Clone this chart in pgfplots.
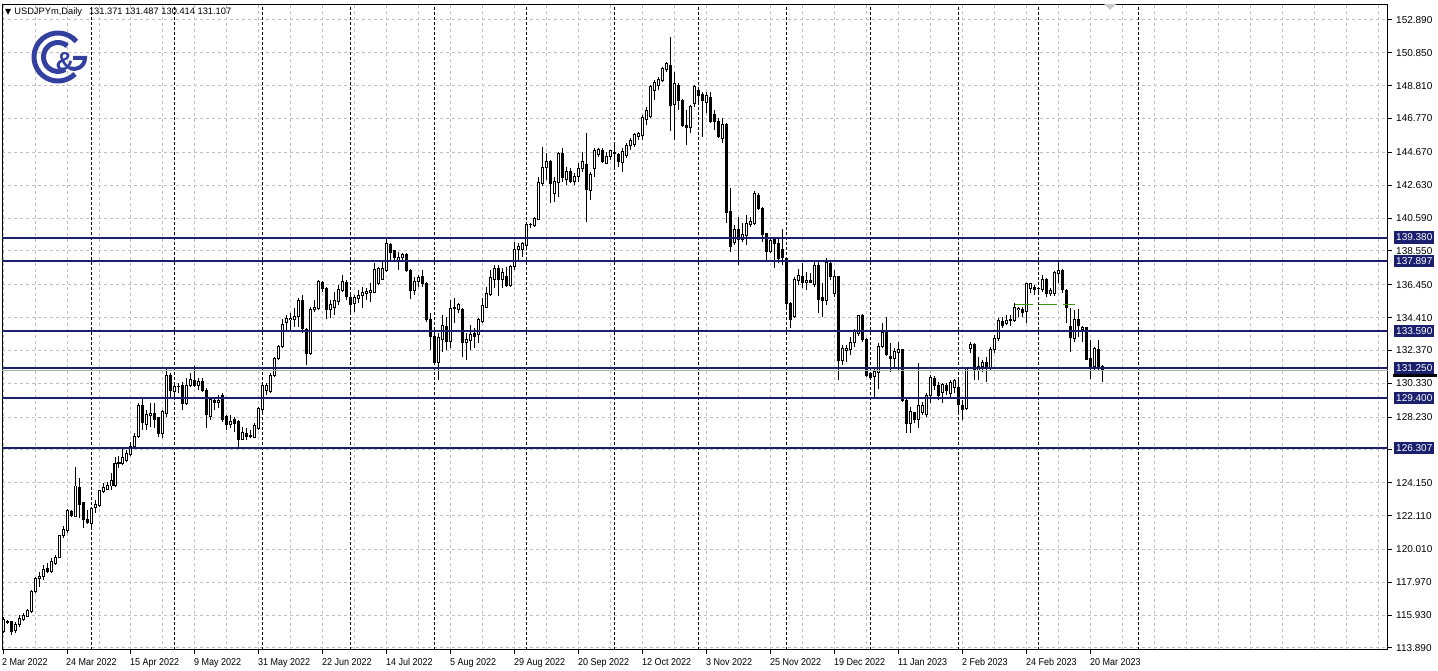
\documentclass[border=0pt]{standalone}
\usepackage{pgfplots}
\pgfplotsset{compat=1.18}
\usepackage{pgfplotstable}
\usepackage{fontspec}
\setmainfont{Liberation Sans}
\newfontfamily\symfont{DejaVu Sans}
\newfontfamily\datefont[FakeStretch=0.9]{Liberation Sans}
\definecolor{navyc}{RGB}{26,32,110}
\definecolor{gridc}{RGB}{192,192,192}
\definecolor{logoc}{RGB}{52,64,160}
\definecolor{greenc}{RGB}{60,150,20}
\definecolor{bidc}{RGB}{175,175,175}

\pgfplotstableread{
i O H L C
0 114.90 115.83 114.80 115.63
1 115.50 115.63 115.40 115.53
2 115.52 115.58 114.70 114.90
3 114.97 115.52 114.80 115.38
4 115.32 115.94 115.21 115.73
5 115.67 116.04 115.59 115.88
6 115.83 116.29 115.79 116.19
7 116.14 117.49 116.04 117.39
8 117.39 118.32 117.29 118.22
9 118.19 118.63 117.70 118.36
10 118.32 119.04 118.11 118.78
11 118.81 119.15 118.53 118.63
12 118.63 119.46 118.53 119.25
13 119.15 119.67 119.04 119.52
14 119.52 120.91 119.46 120.85
15 120.85 121.47 120.72 121.22
16 121.18 122.54 121.01 122.40
17 122.34 122.46 122.05 122.13
18 122.05 125.15 122.00 123.95
19 123.84 124.47 121.94 122.83
20 122.91 122.98 121.32 121.88
21 121.88 122.46 121.59 121.67
22 121.63 122.67 121.32 122.57
23 122.61 123.08 122.29 122.83
24 122.77 123.70 122.67 123.64
25 123.60 124.12 123.50 123.84
26 123.74 124.22 123.70 123.97
27 123.95 124.74 123.70 124.32
28 124.01 125.77 123.91 125.36
29 125.36 125.81 125.05 125.40
30 125.36 126.39 125.25 125.73
31 125.56 126.19 125.46 125.94
32 125.88 126.70 125.81 126.39
33 126.39 127.22 126.29 127.05
34 127.01 129.09 126.91 128.92
35 128.92 129.40 127.43 127.88
36 127.80 128.67 127.43 128.36
37 128.30 129.09 127.63 128.46
38 128.46 129.09 127.53 128.05
39 128.22 128.26 127.01 127.22
40 127.22 128.67 126.91 128.57
41 128.46 131.26 128.26 130.84
42 130.84 130.95 129.50 129.91
43 129.81 130.43 129.50 130.12
44 130.10 130.33 129.71 130.13
45 130.22 130.43 128.67 129.09
46 129.09 130.64 128.98 130.22
47 130.22 130.95 130.12 130.57
48 130.53 131.40 130.12 130.22
49 130.19 130.64 129.91 130.47
50 130.47 130.64 129.81 129.91
51 129.91 130.02 127.53 128.36
52 128.26 129.50 128.05 129.35
53 129.25 129.50 128.67 129.12
54 129.12 129.60 128.78 129.29
55 129.60 129.71 127.94 128.05
56 128.26 128.36 127.43 127.74
57 127.78 128.36 127.53 127.94
58 128.09 128.26 127.32 127.84
59 127.94 128.05 126.39 126.85
60 126.85 127.63 126.81 127.26
61 127.22 127.53 126.81 127.01
62 127.05 127.43 126.91 127.08
63 126.98 127.84 126.91 127.68
64 127.53 128.88 127.43 128.78
65 128.67 130.33 128.57 130.22
66 129.91 130.33 129.60 130.16
67 129.81 130.95 129.71 130.84
68 130.84 131.98 130.74 131.88
69 131.88 132.71 131.77 132.60
70 132.60 134.30 132.50 134.00
71 134.09 134.57 133.53 134.36
72 134.26 134.67 133.64 134.36
73 134.26 134.98 133.84 134.47
74 134.47 135.61 133.84 135.50
75 135.50 135.81 133.43 133.74
76 133.64 133.74 131.46 132.19
77 132.19 135.09 132.09 134.92
78 134.88 135.50 134.78 135.05
79 134.98 136.74 134.88 136.68
80 136.60 136.68 136.02 136.23
81 136.23 136.33 134.30 134.92
82 134.92 135.50 134.36 135.25
83 135.05 136.02 134.57 135.50
84 135.40 136.43 135.19 136.17
85 136.08 137.05 136.02 136.64
86 136.60 136.74 135.50 135.71
87 135.67 135.81 134.67 135.19
88 135.30 135.81 134.78 135.67
89 135.61 136.12 135.30 135.81
90 135.81 136.33 134.98 135.95
91 135.92 136.23 135.50 136.02
92 135.95 136.54 135.40 136.12
93 135.95 137.78 135.92 137.41
94 136.54 137.57 136.43 137.47
95 136.78 137.88 136.74 137.47
96 137.36 139.39 137.26 138.98
97 138.92 139.02 137.88 138.44
98 138.57 138.61 137.88 138.15
99 137.98 138.50 137.36 138.15
100 138.15 138.40 137.98 138.30
101 138.30 138.40 137.26 137.36
102 137.36 137.41 135.55 136.12
103 136.12 136.95 135.81 136.68
104 136.64 137.05 136.33 136.91
105 136.95 137.36 136.33 136.54
106 136.54 136.60 134.16 134.26
107 134.32 134.67 132.40 133.22
108 133.26 133.43 131.57 131.61
109 131.61 133.43 130.53 133.18
110 133.02 134.57 132.29 133.89
111 133.84 134.47 132.40 132.91
112 132.91 135.50 132.50 134.98
113 135.05 135.61 134.05 134.95
114 134.88 135.30 134.67 135.19
115 134.92 134.98 131.98 132.85
116 132.85 133.43 131.77 133.02
117 132.97 133.95 132.40 133.33
118 133.39 133.74 132.54 133.26
119 133.33 134.36 132.81 134.26
120 134.16 135.61 134.05 135.13
121 135.03 136.33 134.98 135.92
122 135.86 137.36 135.75 136.89
123 136.78 137.67 136.23 137.47
124 137.43 137.67 135.75 136.78
125 136.78 137.47 136.23 137.19
126 136.99 137.57 136.33 136.43
127 136.39 137.67 136.33 137.57
128 137.57 139.12 137.36 138.65
129 138.65 139.02 137.98 138.81
130 138.65 139.12 138.19 138.98
131 138.88 140.26 138.81 140.20
132 140.16 140.26 139.95 140.20
133 140.10 140.67 140.06 140.57
134 140.53 143.12 140.47 142.81
135 142.75 144.98 142.58 143.74
136 143.74 144.61 142.95 144.09
137 144.09 144.19 141.50 142.75
138 142.12 143.16 141.61 142.85
139 142.79 144.71 141.92 144.61
140 144.61 144.92 142.85 143.12
141 143.01 143.78 142.64 143.51
142 143.47 143.68 142.75 142.89
143 142.85 143.37 142.64 143.16
144 143.16 143.99 142.85 143.68
145 143.68 144.71 143.47 144.09
146 143.92 145.85 140.37 142.37
147 142.30 143.47 141.71 143.30
148 143.64 144.92 143.16 144.76
149 144.55 144.92 144.40 144.82
150 144.76 144.92 143.99 144.09
151 143.99 144.71 143.92 144.44
152 144.44 144.82 144.19 144.76
153 144.61 145.34 143.57 144.65
154 144.51 144.61 143.78 144.09
155 144.05 144.92 143.47 144.71
156 144.46 145.23 144.34 145.09
157 145.09 145.54 144.82 145.38
158 145.17 145.85 145.02 145.75
159 145.65 145.96 145.44 145.85
160 145.69 146.99 145.44 146.82
161 146.74 147.51 146.37 147.24
162 146.88 148.85 146.78 148.75
163 148.48 149.16 147.92 149.02
164 148.85 149.37 148.54 149.21
165 149.16 149.99 149.02 149.89
166 149.83 150.30 149.68 150.20
167 150.09 151.85 145.99 147.57
168 147.61 149.68 145.44 148.96
169 148.85 148.96 147.30 147.86
170 147.92 147.99 146.27 146.33
171 146.33 147.30 145.13 146.20
172 146.20 147.61 145.85 147.51
173 147.71 148.85 147.51 148.75
174 148.54 148.75 147.82 148.23
175 148.27 148.44 145.65 147.86
176 147.78 148.44 147.09 148.23
177 148.09 148.44 146.51 146.57
178 146.99 147.30 146.06 146.57
179 146.57 146.78 145.54 145.65
180 145.54 146.78 145.23 146.37
181 146.37 146.47 140.26 140.92
182 140.99 142.44 138.50 138.81
183 139.06 140.16 138.92 139.89
184 139.85 140.68 137.67 139.27
185 139.27 140.26 139.12 139.54
186 139.48 140.78 138.92 140.26
187 140.16 140.68 140.06 140.37
188 140.26 142.29 140.16 142.13
189 142.02 142.13 141.09 141.20
190 141.20 141.30 139.12 139.54
191 139.60 139.64 137.98 138.50
192 138.50 139.33 138.40 139.18
193 139.27 139.43 137.47 138.98
194 139.02 139.33 137.78 138.09
195 138.65 139.89 137.67 138.15
196 138.09 138.19 135.09 135.30
197 135.30 135.40 133.74 134.30
198 134.47 136.91 134.36 136.78
199 136.74 137.41 136.43 137.01
200 136.99 137.82 136.23 136.57
201 136.57 137.26 136.12 136.74
202 136.70 137.16 136.54 136.57
203 136.49 137.88 136.33 137.67
204 137.67 137.88 134.67 135.54
205 135.65 136.54 134.47 135.46
206 135.50 138.13 135.19 137.82
207 137.78 137.88 136.74 136.95
208 135.92 137.36 135.71 136.95
209 136.95 136.99 130.53 131.73
210 131.77 132.71 131.46 132.50
211 132.36 132.71 131.67 132.50
212 132.40 133.22 132.09 132.85
213 132.85 133.68 132.60 133.53
214 133.43 134.57 133.26 134.51
215 134.51 134.63 132.91 133.02
216 133.02 133.12 130.74 130.84
217 130.95 131.05 130.53 130.70
218 130.78 131.36 129.46 131.05
219 130.98 132.81 129.95 132.64
220 132.64 134.09 132.50 133.47
221 133.47 134.43 132.02 132.09
222 131.98 132.81 131.05 131.88
223 131.88 132.50 131.26 132.29
224 132.23 132.91 131.15 132.44
225 132.40 132.44 129.19 129.29
226 129.29 129.46 127.22 127.84
227 127.84 128.88 127.22 128.57
228 128.50 128.57 127.84 128.05
229 128.09 131.61 127.53 128.92
230 128.50 129.19 128.36 128.92
231 128.36 129.71 128.26 129.60
232 129.54 130.84 129.09 130.70
233 130.64 130.78 129.91 130.16
234 130.22 130.43 129.29 129.54
235 129.74 130.37 129.09 130.26
236 130.22 130.33 129.60 129.91
237 129.71 130.53 129.50 130.37
238 130.08 130.57 129.71 130.49
239 130.08 130.53 128.36 128.98
240 128.98 129.29 128.05 128.71
241 128.78 131.36 128.67 131.26
242 132.50 132.91 132.19 132.71
243 132.71 132.81 130.53 131.15
244 131.15 131.98 130.53 131.40
245 131.36 131.77 131.05 131.61
246 131.61 131.98 130.43 131.36
247 131.26 132.60 131.15 132.44
248 132.44 133.33 132.19 133.12
249 133.12 134.36 132.98 134.22
250 134.16 134.47 133.74 133.89
251 134.05 134.57 133.95 134.22
252 134.20 134.57 133.89 134.26
253 134.22 135.30 134.16 135.05
254 134.88 135.09 134.47 134.98
255 134.92 135.09 134.47 134.71
256 134.78 136.58 134.05 136.50
257 136.23 136.58 135.96 136.50
258 136.29 136.43 135.81 136.16
259 136.20 136.33 136.02 136.23
260 136.16 137.05 136.02 136.78
261 136.78 136.85 135.71 135.88
262 135.88 136.23 135.75 136.08
263 135.88 137.33 135.75 137.21
264 137.16 137.88 136.54 137.36
265 137.36 137.41 135.92 136.16
266 136.12 136.16 134.05 135.05
267 133.84 134.98 132.29 133.18
268 133.12 134.88 132.91 134.26
269 134.26 134.92 133.18 133.89
270 133.64 133.89 132.91 133.81
271 133.81 133.85 131.77 131.82
272 131.88 133.02 130.57 131.32
273 131.36 132.60 131.15 132.50
274 132.44 133.02 131.12 131.36
275 131.371 131.487 130.414 131.107
}\ohlc

\begin{document}
\begin{tikzpicture}[x=1pt,y=1pt]
\path[use as bounding box] (-2,-21) rectangle (1436,650);
\begin{axis}[
  at={(0,0)}, anchor=south west,
  scale only axis, width=1386pt, height=645pt,
  xmin=-0.25, xmax=346.25, ymin=113.766, ymax=153.82,
  axis line style={black, line width=1pt},
  tick align=outside,
  major tick length=4pt,
  minor tick length=0pt,
  tick style={black, line width=1pt},
  xtick pos=bottom, ytick pos=right, yticklabel pos=right,
  xtick={0,16,...,272},
  xticklabels={2 Mar 2022,24 Mar 2022,15 Apr 2022,9 May 2022,31 May 2022,22 Jun 2022,14 Jul 2022,5 Aug 2022,29 Aug 2022,20 Sep 2022,12 Oct 2022,3 Nov 2022,25 Nov 2022,19 Dec 2022,11 Jan 2023,2 Feb 2023,24 Feb 2023,20 Mar 2023},
  minor xtick={8,16,...,344},
  ytick={113.89,115.93,117.97,120.01,122.11,124.15,126.19,128.23,130.33,132.37,134.41,136.45,138.55,140.59,142.63,144.67,146.77,148.81,150.85,152.89},
  yticklabels={113.890,115.930,117.970,120.010,122.110,124.150,126.190,128.230,130.330,132.370,134.410,136.450,138.550,140.590,142.630,144.670,146.770,148.810,150.850,152.890},
  grid=both,
  major grid style={gridc, dash pattern=on 3pt off 3pt, line width=1pt},
  minor grid style={gridc, dash pattern=on 3pt off 3pt, line width=1pt},
  x tick label style={font=\datefont\fontsize{10}{12}\selectfont, anchor=north west, inner sep=0pt, xshift=-1pt, yshift=-4pt},
  y tick label style={font=\fontsize{10}{12}\selectfont, anchor=west, inner sep=0pt, xshift=4pt},
  extra x ticks={22,43,65,87,108,131,153,174,196,217,239,259,284},
  extra x tick labels={},
  extra x tick style={grid=major, major tick length=0pt, major grid style={black, dash pattern=on 3pt off 2pt, line width=1pt}},
  extra y ticks={139.38,137.897,133.59,131.25,129.4,126.307},
  extra y tick labels={139.380,137.897,133.590,131.250,129.400,126.307},
  extra y tick style={grid=none, major tick length=0pt, y tick label style={fill=navyc, text=white, inner xsep=2pt, inner ysep=2.5pt, xshift=2pt}},
]
% wicks
\addplot[draw=none, mark=none, mark size=0pt, forget plot,
  error bars/.cd, y dir=plus, y explicit, error mark=none,
  error bar style={draw=black, line width=1pt, solid}]
  table[x=i, y=L, y error plus expr={\thisrow{H}-\thisrow{L}}] {\ohlc};
% bodies (black fill / outline)
\addplot[draw=none, mark=none, mark size=0pt, forget plot,
  error bars/.cd, y dir=plus, y explicit, error mark=none,
  error bar style={draw=black, line width=3pt, solid}]
  table[x=i, y expr={min(\thisrow{O},\thisrow{C})-0.031}, y error plus expr={abs(\thisrow{C}-\thisrow{O})+0.062}] {\ohlc};
% white interior of rising candles
\addplot[draw=none, mark=none, mark size=0pt, forget plot,
  error bars/.cd, y dir=plus, y explicit, error mark=none,
  error bar style={draw=white, line width=1pt, solid}]
  table[x=i, y expr={\thisrow{O}+0.031}, y error plus expr={max(\thisrow{C}-\thisrow{O}-0.062,0)}] {\ohlc};
% bid line
\addplot[bidc, line width=1pt] coordinates {(-0.25,131.107) (346.25,131.107)};
% horizontal levels
\addplot[navyc, line width=2pt] coordinates {(-0.25,139.38) (346.25,139.38)};
\addplot[navyc, line width=2pt] coordinates {(-0.25,137.897) (346.25,137.897)};
\addplot[navyc, line width=2pt] coordinates {(-0.25,133.59) (346.25,133.59)};
\addplot[navyc, line width=2pt] coordinates {(-0.25,131.25) (346.25,131.25)};
\addplot[navyc, line width=2pt] coordinates {(-0.25,129.4) (346.25,129.4)};
\addplot[navyc, line width=2pt] coordinates {(-0.25,126.307) (346.25,126.307)};
% green segments
\addplot[greenc, line width=1pt] coordinates {(253,135.25) (257.5,135.25)};
\addplot[greenc, line width=1pt] coordinates {(259,135.25) (263.5,135.25)};
\addplot[greenc, line width=1pt] coordinates {(265,135.25) (268,135.25)};
\end{axis}
% header
\node[anchor=west, inner sep=0pt] at (3,638) {{\symfont\fontsize{8}{9}\selectfont ▼}\hspace{3pt}{\fontsize{9.3}{11}\selectfont USDJPYm,Daily\hspace{7pt}131.371 131.487 130.414 131.107}};
% chart shift marker
\fill[gray!40] (1102,646) -- (1114,646) -- (1108,640) -- cycle;
% bid price box strip
\fill[black] (1391,273) rectangle (1435,276);
% logo
\begin{scope}[shift={(56,593)}]
\draw[logoc, line width=5pt] (40:24) arc (40:315:24);
\draw[logoc, line width=5pt] (50:14.5) arc (50:300:14.5);
\node[logoc, font=\bfseries\fontsize{26}{26}\selectfont] at (7,-5) {\&};
\draw[logoc, line width=4pt] (15,-1) -- (27,-1) arc (0:-110:11);
\end{scope}
\end{tikzpicture}
\end{document}
